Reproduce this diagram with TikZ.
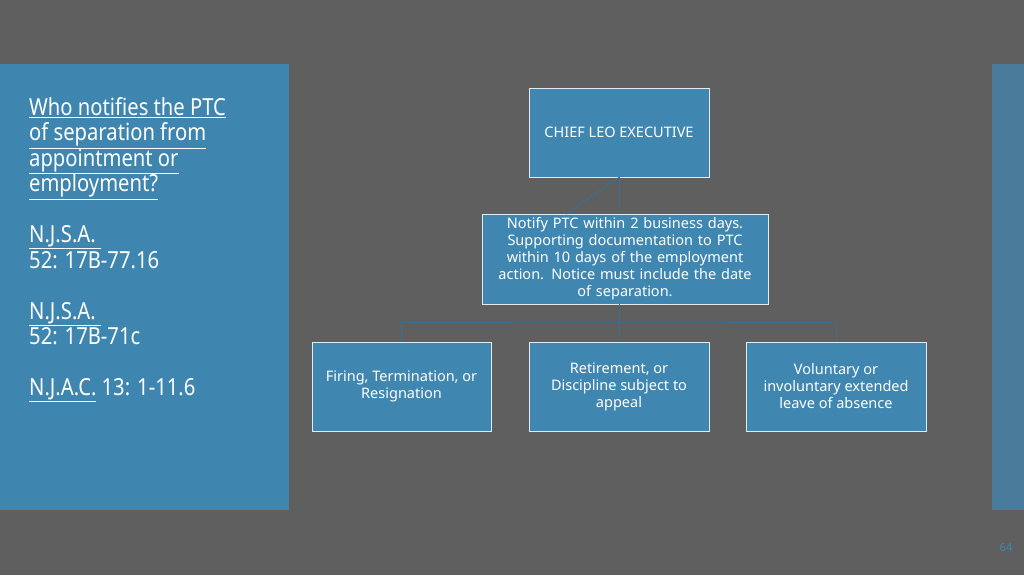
\documentclass[tikz,border=0pt]{standalone}
\usepackage{fontspec}
\setmainfont{Noto Sans}
\newfontfamily\titlefont[FakeStretch=0.86]{Noto Sans}
\usetikzlibrary{positioning}
\definecolor{slate}{HTML}{5F5F5F}
\definecolor{panel}{HTML}{3E86B0}
\definecolor{strip}{HTML}{4A7B9A}
\definecolor{boxfill}{HTML}{3F87B1}
\definecolor{link}{HTML}{3A6F8E}
\newcommand\ulin[1]{\underline{#1}}
\tikzset{
  orgbox/.style={draw=white!85!boxfill, fill=boxfill, line width=0.8pt, text=white,
    minimum height=89pt, align=center, font=\fontsize{14.5}{17}\selectfont, inner sep=2pt},
  link/.style={draw=link, line width=1pt}
}
\begin{document}
\begin{tikzpicture}[x=1pt, y=-1pt]
  \fill[slate] (0,0) rectangle (1024,575);
  \useasboundingbox (0,0) rectangle (1024,575);
  \fill[panel] (0,64) rectangle (289,510);
  \fill[strip] (992,64) rectangle (1024,510);
  \node[anchor=north west, text=white, align=left, inner sep=0pt,
    font=\titlefont\fontsize{23.5}{25.5}\selectfont] (title) at (29,97)
    {\ulin{Who notifies the PTC}\\ \ulin{of separation from}\\ \ulin{appointment or}\\ \ulin{employment?}\\[25.5pt]
     \ulin{N.J.S.A.\ }\\ 52: 17B-77.16\\[25.5pt]
     \ulin{N.J.S.A.\ }\\ 52: 17B-71c\\[25.5pt]
     \ulin{N.J.A.C.} 13: 1-11.6};
  % boxes
  \node[orgbox, minimum width=180pt] (chief) at (619,132.5) {CHIEF LEO EXECUTIVE};
  \node[orgbox, minimum width=286pt, minimum height=90pt, text width=282pt] (notify) at (625,259)
    {Notify PTC within 2 business days.\\ Supporting documentation to PTC\\ within 10 days of the employment\\ action. Notice must include the date\\ of separation.};
  \node[orgbox, minimum width=179pt] (firing) at (401.5,386.5) {Firing, Termination, or\\ Resignation};
  \node[orgbox, minimum width=180pt] (retire) at (619,386.5) {Retirement, or\\ Discipline subject to\\ appeal};
  \node[orgbox, minimum width=180pt] (leave) at (836,386.5) {Voluntary or\\ involuntary extended\\ leave of absence};
  % connectors
  \coordinate (bus) at (619,322);
  \draw[link] (chief.south) -- (chief.south |- notify.north);
  \draw[link] (chief.south) -- (566,214);
  \draw[link] (notify.south -| bus) -- (bus);
  \draw[link] (firing.north) |- (bus) -| (leave.north);
  \draw[link] (bus) -- (retire.north);
  \node[text=panel, font=\bfseries\fontsize{11}{12}\selectfont] (page) at (1006,548) {64};
\end{tikzpicture}
\end{document}
